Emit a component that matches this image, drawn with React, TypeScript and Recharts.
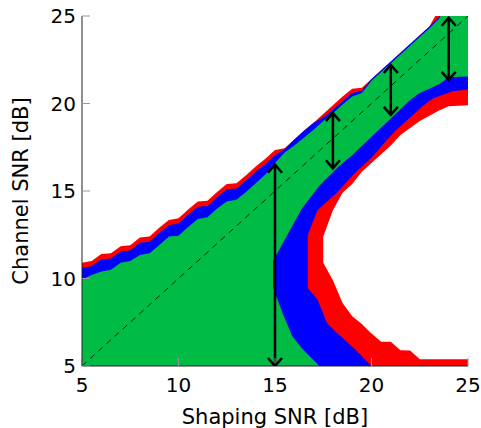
import React from "react";
import { Area, ComposedChart, Line, XAxis, YAxis } from "recharts";

const GREEN = "#00bb44";
const BLUE = "#0000ff";
const RED = "#ff0000";
const FONT = "'DejaVu Sans', sans-serif";

const axisTicks = [5, 10, 15, 20, 25];

// upper-left band (columns every 0.5 dB)
const bandX = [5, 5.5, 6, 6.5, 7, 7.5, 8, 8.5, 9, 9.5, 10, 10.5, 11, 11.5, 12, 12.5, 13, 13.5, 14, 14.5, 15, 15.5, 16, 16.5, 17, 17.5, 18, 18.5, 19, 19.5, 20, 20.5, 21, 21.5, 22, 22.5, 23, 23.5, 24, 24.5, 25];
const redTop = [10.9, 11.0, 11.4, 11.45, 11.85, 11.9, 12.35, 12.4, 12.9, 13.35, 13.45, 13.95, 14.4, 14.45, 14.95, 15.4, 15.45, 15.9, 16.4, 16.85, 17.35, 17.45, 17.95, 18.45, 18.9, 19.4, 19.9, 20.4, 20.85, 20.9, 21.4, 21.9, 22.4, 22.9, 23.4, 23.9, 24.4, 25.4, 26, 26.5, 27];
const blueTop = [10.6, 10.7, 11.1, 11.15, 11.55, 11.6, 12.05, 12.1, 12.6, 13.05, 13.15, 13.65, 14.1, 14.15, 14.65, 15.1, 15.15, 15.6, 16.1, 16.55, 17.05, 17.4, 17.95, 18.45, 18.9, 19.2, 19.65, 20.15, 20.6, 20.75, 21.4, 21.9, 22.4, 22.9, 23.4, 23.9, 24.4, 24.95, 26, 26.5, 27];
const greenTop = [9.95, 10.2, 10.4, 10.5, 10.9, 11.0, 11.35, 11.45, 11.9, 12.4, 12.45, 12.95, 13.4, 13.5, 14.0, 14.4, 14.5, 14.95, 15.45, 15.95, 16.6, 17.2, 17.6, 18.05, 18.5, 19.0, 19.45, 19.95, 20.4, 20.6, 21.3, 21.8, 22.3, 22.8, 23.3, 23.8, 24.3, 24.85, 26, 26.5, 27];

// lower-right pocket
const holeBlueX = [14.9, 15.4, 15.9, 16.4, 17.3, 18.3, 19, 20, 21, 22, 22.5, 23, 23.5, 24, 25];
const holeBlueLo = [9.5, 8.0, 6.7, 6.0, 5, 5, 5, 5, 5, 5, 5, 5, 5, 5, 5];
const holeBlueHi = [11.0, 12.0, 13.0, 14.0, 15.3, 16.4, 17.05, 18.1, 19.15, 20.2, 20.6, 20.85, 21.1, 21.5, 21.55];

const holeRedX = [16.7, 17.2, 17.7, 18.2, 18.7, 19.2, 19.7, 20.0, 20.7, 21.2, 21.7, 22.2, 22.7, 23.2, 23.7, 24.2, 25];
const holeRedLo = [9.45, 8.8, 7.45, 6.9, 6.4, 5.9, 5.35, 5, 5, 5, 5, 5, 5, 5, 5, 5, 5];
const holeRedHi = [12.5, 13.9, 14.4, 14.9, 15.5, 16.1, 16.6, 16.9, 17.8, 18.4, 18.9, 19.4, 19.9, 20.3, 20.5, 20.7, 20.8];

const whiteX = [17.5, 18.0, 18.5, 19.0, 19.5, 19.9, 20.5, 21.0, 21.5, 22.0, 22.5, 23.0, 23.5, 24.0, 25];
const whiteLo = [10.9, 9.9, 8.6, 7.85, 7.4, 6.96, 6.39, 6.39, 5.9, 5.88, 5.38, 5.38, 5.38, 5.38, 5.38];
const whiteHi = [12.4, 13.9, 14.9, 15.4, 16.1, 16.5, 17.1, 17.6, 18.2, 18.6, 19.0, 19.3, 19.6, 19.85, 19.9];

// double arrows
const arrowX = [15, 18, 21, 24];
const arrowLo = [5, 16.3, 19.35, 21.35];
const arrowHi = [16.5, 19.45, 22.2, 24.9];

const diagonal = [
  { x: 5, y: 5 },
  { x: 25, y: 25 },
];

const range = (xs: number[], lo: number[] | number, hi: number[]) =>
  xs.map((x, i) => ({ x, r: [Array.isArray(lo) ? lo[i] : lo, hi[i]] }));

const redBand = range(bandX, 5, redTop);
const blueBand = range(bandX, 5, blueTop);
const greenBand = range(bandX, 5, greenTop);
const blueHole = range(holeBlueX, holeBlueLo, holeBlueHi);
const redHole = range(holeRedX, holeRedLo, holeRedHi);
const whiteHole = range(whiteX, whiteLo, whiteHi);

function ArrowHead(props: any) {
  const { cx, cy, index } = props;
  const d = index === 0 ? -8 : 8;
  return (
    <polyline
      key={`head-${index}`}
      points={`${cx - 7},${cy + d} ${cx},${cy} ${cx + 7},${cy + d}`}
      fill="none"
      stroke="#000"
      strokeWidth={2.5}
    />
  );
}

export default function App() {
  return (
    <div style={{ position: "absolute", left: 0, top: 0, background: "#fff" }}>
      <ComposedChart width={481} height={428} margin={{ top: 16, right: 13, left: 0, bottom: 0 }}>
        <XAxis
          dataKey="x"
          type="number"
          domain={[5, 25]}
          ticks={axisTicks}
          allowDataOverflow
          height={62}
          stroke="#222"
          tickSize={-8}
          tickMargin={20}
          tickLine={{ stroke: "#999" }}
          tick={{ fill: "#000", fontSize: 20, fontFamily: FONT }}
          label={{ value: "Shaping SNR [dB]", position: "insideBottom", offset: 4, fill: "#000", fontSize: 21, fontFamily: FONT }}
        />
        <YAxis
          type="number"
          domain={[5, 25]}
          ticks={axisTicks}
          allowDataOverflow
          width={82}
          stroke="#222"
          tickSize={-8}
          tickMargin={14}
          tickLine={{ stroke: "#999" }}
          tick={{ fill: "#000", fontSize: 20, fontFamily: FONT }}
          label={{ value: "Channel SNR [dB]", angle: -90, position: "insideLeft", offset: 21, fill: "#000", fontSize: 21, fontFamily: FONT, style: { textAnchor: "middle" } }}
        />
        <XAxis xAxisId="top" orientation="top" type="number" domain={[5, 25]} height={0} tick={false} tickLine={false} stroke="#222" />
        <YAxis yAxisId="right" orientation="right" type="number" domain={[5, 25]} width={0} tick={false} tickLine={false} stroke="#222" />

        <Area data={redBand} dataKey="r" type="linear" fill={RED} fillOpacity={1} stroke="none" isAnimationActive={false} />
        <Area data={blueBand} dataKey="r" type="linear" fill={BLUE} fillOpacity={1} stroke="none" isAnimationActive={false} />
        <Area data={greenBand} dataKey="r" type="linear" fill={GREEN} fillOpacity={1} stroke="none" isAnimationActive={false} />
        <Area data={blueHole} dataKey="r" type="linear" fill={BLUE} fillOpacity={1} stroke="none" isAnimationActive={false} />
        <Area data={redHole} dataKey="r" type="linear" fill={RED} fillOpacity={1} stroke="none" isAnimationActive={false} />
        <Area data={whiteHole} dataKey="r" type="linear" fill="#fff" fillOpacity={1} stroke="none" isAnimationActive={false} />

        <Line data={diagonal} dataKey="y" type="linear" stroke="#000" strokeWidth={0.8} strokeDasharray="6 5" dot={false} activeDot={false} isAnimationActive={false} />
        {arrowX.map((x, i) => (
          <Line
            key={x}
            data={[
              { x, y: arrowLo[i] },
              { x, y: arrowHi[i] },
            ]}
            dataKey="y"
            type="linear"
            stroke="#000"
            strokeWidth={2.5}
            dot={ArrowHead}
            activeDot={false}
            isAnimationActive={false}
          />
        ))}
      </ComposedChart>
    </div>
  );
}
